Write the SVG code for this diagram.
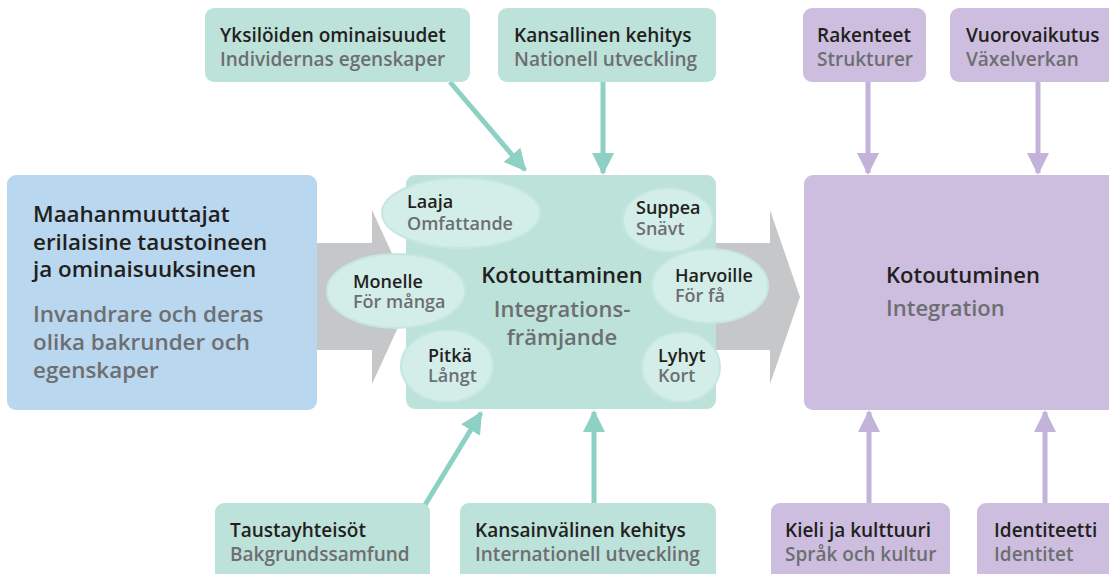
<svg xmlns="http://www.w3.org/2000/svg" width="1109" height="574" viewBox="0 0 1109 574">
<defs>
<style>
.t{font-family:"Open Sans","Liberation Sans",sans-serif;font-weight:600;}
.d{fill:#231f20;}
.g{fill:#6d6e71;}
.teal{fill:#bce2da;}
.ell{fill:#d3ede8;stroke:#c6e7e0;stroke-width:2;}
.pur{fill:#cdbedf;}
.ta{stroke:#8dd0c4;stroke-width:5;fill:none;}
.pa{stroke:#c3b3da;stroke-width:5;fill:none;}
</style>
<marker id="mt" markerUnits="userSpaceOnUse" markerWidth="24" markerHeight="24" refX="20" refY="12" orient="auto"><path d="M0,1 L22,12 L0,23 Z" fill="#8dd0c4"/></marker>
<marker id="mp" markerUnits="userSpaceOnUse" markerWidth="24" markerHeight="24" refX="20" refY="12" orient="auto"><path d="M0,1 L22,12 L0,23 Z" fill="#c3b3da"/></marker>
</defs>
<rect width="1109" height="574" fill="#ffffff"/>
<g id="flow">
<polygon points="315,243 372,243 372,210 412,297 372,384 372,350 315,350" fill="#c6c7c9"/>
<polygon points="714,243 770,243 770,210 800,297 770,384 770,350 714,350" fill="#c6c7c9"/>
</g>
<g id="connectors">
<line class="ta" x1="450" y1="82" x2="525" y2="170" marker-end="url(#mt)"/>
<line class="ta" x1="603" y1="82" x2="603" y2="173" marker-end="url(#mt)"/>
<line class="ta" x1="425" y1="505" x2="481" y2="413" marker-end="url(#mt)"/>
<line class="ta" x1="594" y1="503" x2="594" y2="412" marker-end="url(#mt)"/>
<line class="pa" x1="868" y1="82" x2="868" y2="173" marker-end="url(#mp)"/>
<line class="pa" x1="1038" y1="82" x2="1038" y2="173" marker-end="url(#mp)"/>
<line class="pa" x1="869" y1="503" x2="869" y2="412" marker-end="url(#mp)"/>
<line class="pa" x1="1045" y1="503" x2="1045" y2="412" marker-end="url(#mp)"/>
</g>
<g id="immigrants">
<rect x="7" y="175" width="310" height="235" rx="9" fill="#b9d7ee"/>
<text class="t d" font-size="22.4"><tspan x="33" y="222">Maahanmuuttajat</tspan><tspan x="33" y="250">erilaisine taustoineen</tspan><tspan x="33" y="277">ja ominaisuuksineen</tspan></text>
<text class="t g" font-size="22.4"><tspan x="33" y="322">Invandrare och deras</tspan><tspan x="33" y="350">olika bakrunder och</tspan><tspan x="33" y="378">egenskaper</tspan></text>
</g>
<g id="kotouttaminen">
<rect class="teal" x="406" y="175" width="310" height="234" rx="9"/>
<ellipse class="ell" cx="461" cy="213" rx="79" ry="35"/>
<ellipse class="ell" cx="668" cy="220" rx="45" ry="32"/>
<ellipse class="ell" cx="396" cy="291" rx="69" ry="37"/>
<ellipse class="ell" cx="710" cy="286" rx="58" ry="37"/>
<ellipse class="ell" cx="447" cy="366" rx="46" ry="36"/>
<ellipse class="ell" cx="681" cy="367" rx="39" ry="35"/>
<text class="t d" font-size="22" x="562" y="283" text-anchor="middle">Kotouttaminen</text>
<text class="t g" font-size="22" text-anchor="middle"><tspan x="562" y="317">Integrations-</tspan><tspan x="562" y="345">främjande</tspan></text>
<text class="t" font-size="18"><tspan class="d" x="407" y="208">Laaja</tspan><tspan class="g" x="407" y="230">Omfattande</tspan></text>
<text class="t" font-size="18"><tspan class="d" x="636" y="214">Suppea</tspan><tspan class="g" x="636" y="235">Snävt</tspan></text>
<text class="t" font-size="18"><tspan class="d" x="353" y="288">Monelle</tspan><tspan class="g" x="353" y="308">För många</tspan></text>
<text class="t" font-size="18"><tspan class="d" x="675" y="282">Harvoille</tspan><tspan class="g" x="675" y="302">För få</tspan></text>
<text class="t" font-size="18"><tspan class="d" x="428" y="362">Pitkä</tspan><tspan class="g" x="428" y="382">Långt</tspan></text>
<text class="t" font-size="18"><tspan class="d" x="658" y="362">Lyhyt</tspan><tspan class="g" x="658" y="382">Kort</tspan></text>
</g>
<g id="kotoutuminen">
<rect class="pur" x="804" y="175" width="315" height="235" rx="9"/>
<text class="t d" font-size="22" x="886" y="283">Kotoutuminen</text>
<text class="t g" font-size="22" x="886" y="316">Integration</text>
</g>
<g id="yksiloiden">
<rect class="teal" x="205" y="8" width="265" height="74" rx="9"/>
<text class="t" font-size="19"><tspan class="d" x="220" y="42">Yksilöiden ominaisuudet</tspan><tspan class="g" x="220" y="66">Individernas egenskaper</tspan></text>
</g>
<g id="kansallinen">
<rect class="teal" x="498" y="8" width="218" height="74" rx="9"/>
<text class="t" font-size="19"><tspan class="d" x="514" y="42">Kansallinen kehitys</tspan><tspan class="g" x="514" y="66">Nationell utveckling</tspan></text>
</g>
<g id="taustayhteisot">
<rect class="teal" x="215" y="503" width="215" height="80" rx="9"/>
<text class="t" font-size="19"><tspan class="d" x="230" y="537">Taustayhteisöt</tspan><tspan class="g" x="230" y="561">Bakgrundssamfund</tspan></text>
</g>
<g id="kansainvalinen">
<rect class="teal" x="460" y="503" width="256" height="80" rx="9"/>
<text class="t" font-size="19"><tspan class="d" x="475" y="537">Kansainvälinen kehitys</tspan><tspan class="g" x="475" y="561">Internationell utveckling</tspan></text>
</g>
<g id="rakenteet">
<rect class="pur" x="803" y="8" width="123" height="74" rx="9"/>
<text class="t" font-size="19"><tspan class="d" x="817" y="42">Rakenteet</tspan><tspan class="g" x="817" y="66">Strukturer</tspan></text>
</g>
<g id="vuorovaikutus">
<rect class="pur" x="950" y="8" width="170" height="74" rx="9"/>
<text class="t" font-size="19"><tspan class="d" x="966" y="42">Vuorovaikutus</tspan><tspan class="g" x="966" y="66">Växelverkan</tspan></text>
</g>
<g id="kieli">
<rect class="pur" x="771" y="503" width="179" height="80" rx="9"/>
<text class="t" font-size="19"><tspan class="d" x="785" y="537">Kieli ja kulttuuri</tspan><tspan class="g" x="785" y="561">Språk och kultur</tspan></text>
</g>
<g id="identiteetti">
<rect class="pur" x="977" y="503" width="140" height="80" rx="9"/>
<text class="t" font-size="19"><tspan class="d" x="994" y="537">Identiteetti</tspan><tspan class="g" x="994" y="561">Identitet</tspan></text>
</g>
</svg>
